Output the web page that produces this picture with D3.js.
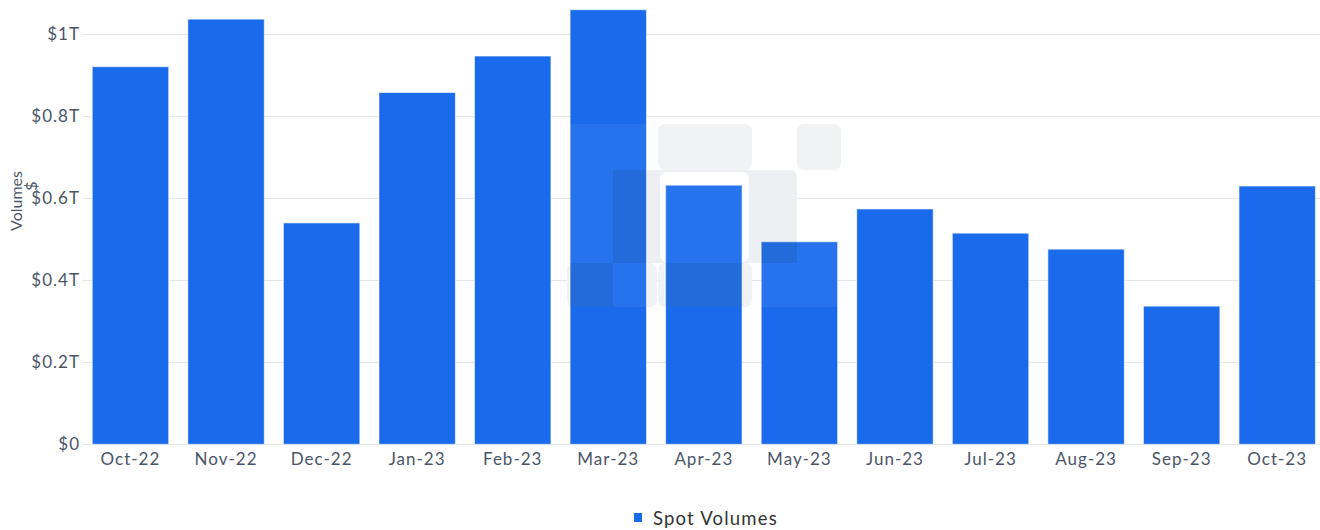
<!DOCTYPE html>
<html>
<head>
<meta charset="utf-8">
<script src="https://cdn.jsdelivr.net/npm/d3@7"></script>
<style>
  html, body { margin: 0; padding: 0; background: #ffffff; }
  svg { display: block; }
  text { font-family: "Lato", "Inter", sans-serif; }
</style>
</head>
<body>
<svg id="chart" width="1320" height="530"></svg>
<script>
// Monthly spot trading volumes (USD)
const months = ["Oct-22", "Nov-22", "Dec-22", "Jan-23", "Feb-23", "Mar-23", "Apr-23",
                "May-23", "Jun-23", "Jul-23", "Aug-23", "Sep-23", "Oct-23"];
const spotVolumes = [0.921e12, 1.037e12, 0.540e12, 0.858e12, 0.947e12, 1.060e12, 0.632e12,
                     0.494e12, 0.574e12, 0.515e12, 0.476e12, 0.337e12, 0.630e12];
const yTicks = [0, 0.2e12, 0.4e12, 0.6e12, 0.8e12, 1e12];
const yTickLabels = ["$0", "$0.2T", "$0.4T", "$0.6T", "$0.8T", "$1T"];
const seriesName = "Spot Volumes";

const svg = d3.select("#chart");
const W = 1320;
const barColor = "#1a6bec";
const labelColor = "#4b5567";

const x = d3.scaleBand()
  .domain(months)
  .range([82.7, 1325])
  .paddingInner(0.2)
  .paddingOuter(0.1);

const y = d3.scaleLinear()
  .domain([0, 1e12])
  .range([444.3, 34.3]);

// Horizontal grid lines
svg.append("g")
  .selectAll("line")
  .data(yTicks)
  .join("line")
  .attr("x1", 83)
  .attr("x2", W)
  .attr("y1", d => Math.round(y(d)) + 0.5)
  .attr("y2", d => Math.round(y(d)) + 0.5)
  .attr("stroke", "#e6e6e6")
  .attr("stroke-width", 1);

// Background brand mark (grey cells on the canvas)
const markBack = svg.append("g");
const backCells = [
  { x0: 658, x1: 752, y0: 124, y1: 170, fill: "#f1f2f4" },
  { x0: 797, x1: 841, y0: 124, y1: 170, fill: "#f1f2f4" },
  { x0: 613, x1: 797, y0: 170, y1: 263, fill: "#edeff2" },
  { x0: 660, x1: 749, y0: 172, y1: 262, fill: "#ffffff" },
  { x0: 567, x1: 613, y0: 263, y1: 307, fill: "#f1f2f4" },
  { x0: 615, x1: 657, y0: 263, y1: 307, fill: "#f1f2f4" },
  { x0: 658, x1: 752, y0: 263, y1: 307, fill: "#f1f2f4" }
];
markBack.selectAll("rect")
  .data(backCells)
  .join("rect")
  .attr("x", d => d.x0).attr("y", d => d.y0)
  .attr("width", d => d.x1 - d.x0).attr("height", d => d.y1 - d.y0)
  .attr("rx", 7).attr("ry", 7)
  .attr("fill", d => d.fill);

// Bars
const bars = svg.append("g");
bars.selectAll("rect")
  .data(spotVolumes)
  .join("rect")
  .attr("x", (d, i) => x(months[i]))
  .attr("y", d => y(d))
  .attr("width", x.bandwidth())
  .attr("height", d => y(0) - y(d))
  .attr("fill", barColor)
  .attr("stroke", "#ffffff")
  .attr("stroke-opacity", 0.6)
  .attr("stroke-width", 1);

// Brand mark tint over the bars
const defs = svg.append("defs");
const clip = defs.append("clipPath").attr("id", "bar-clip");
clip.selectAll("rect")
  .data(spotVolumes)
  .join("rect")
  .attr("x", (d, i) => x(months[i]))
  .attr("y", d => y(d))
  .attr("width", x.bandwidth())
  .attr("height", d => y(0) - y(d));

const markFront = svg.append("g").attr("clip-path", "url(#bar-clip)");
markFront.append("rect")
  .attr("x", 567).attr("y", 124).attr("width", 274).attr("height", 183)
  .attr("fill", "#ffffff").attr("fill-opacity", 0.055);
const darkCells = [
  { x0: 613, x1: 660, y0: 170, y1: 263 },
  { x0: 749, x1: 797, y0: 170, y1: 263 },
  { x0: 567, x1: 613, y0: 263, y1: 307 },
  { x0: 658, x1: 752, y0: 263, y1: 307 }
];
markFront.selectAll("rect.dark")
  .data(darkCells)
  .join("rect")
  .attr("class", "dark")
  .attr("x", d => d.x0).attr("y", d => d.y0)
  .attr("width", d => d.x1 - d.x0).attr("height", d => d.y1 - d.y0)
  .attr("fill", "#000000").attr("fill-opacity", 0.075);

// Y axis tick labels
svg.append("g")
  .selectAll("text")
  .data(yTicks)
  .join("text")
  .attr("x", 80)
  .attr("y", d => y(d))
  .attr("dy", "0.36em")
  .attr("text-anchor", "end")
  .attr("font-size", 17)
  .attr("letter-spacing", 1.0)
  .attr("fill", labelColor)
  .text((d, i) => yTickLabels[i]);

// Y axis title
const yTitle = svg.append("text")
  .attr("transform", "translate(22,201) rotate(-90)")
  .attr("text-anchor", "middle")
  .attr("font-size", 16)
  .attr("fill", labelColor);
yTitle.append("tspan").attr("x", 0).attr("dy", 0).text("Volumes");
yTitle.append("tspan").attr("x", 15).attr("dy", 15).text("$");

// X axis labels
svg.append("g")
  .selectAll("text")
  .data(months)
  .join("text")
  .attr("x", d => x(d) + x.bandwidth() / 2)
  .attr("y", 465)
  .attr("text-anchor", "middle")
  .attr("font-size", 17)
  .attr("letter-spacing", 1.0)
  .attr("fill", labelColor)
  .text(d => d);

// Legend
const legend = svg.append("g");
legend.append("rect")
  .attr("x", 634).attr("y", 513).attr("width", 8).attr("height", 9)
  .attr("fill", barColor);
legend.append("text")
  .attr("x", 653).attr("y", 525)
  .attr("font-size", 18.5)
  .attr("letter-spacing", 1.2)
  .attr("fill", "#333333")
  .text(seriesName);
</script>
</body>
</html>
